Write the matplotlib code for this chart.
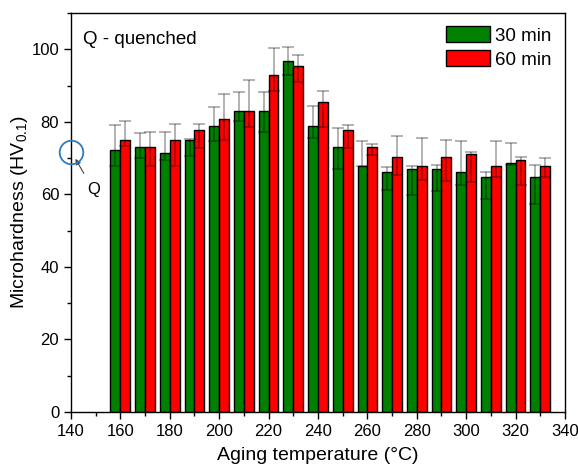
import matplotlib
matplotlib.use("Agg")
import matplotlib.pyplot as plt
import numpy as np
from matplotlib.patches import Patch
from matplotlib.ticker import MultipleLocator

plt.rcParams['font.family'] = ['Liberation Sans', 'DejaVu Sans']

# Aging temperatures (°C)
temps = [160, 170, 180, 190, 200, 210, 220, 230, 240,
         250, 260, 270, 280, 290, 300, 310, 320, 330]

# 30 min aging: mean hardness and upper / lower error
hv_30 = [72.2, 73.0, 71.3, 74.9, 78.8, 83.1, 83.1, 96.9, 78.8,
         73.0, 67.9, 66.2, 67.0, 67.0, 66.2, 64.7, 68.7, 64.7]
err30_up = [7.0, 4.0, 6.0, 0.4, 5.4, 5.1, 5.1, 3.6, 5.5,
            5.2, 6.7, 1.4, 0.8, 1.1, 8.4, 1.4, 5.5, 3.4]
err30_dn = [4.3, 3.0, 1.8, 4.2, 4.0, 2.8, 5.8, 4.1, 3.2,
            5.9, 0.0, 5.0, 7.2, 6.0, 3.6, 5.9, 0.6, 7.4]

# 60 min aging: mean hardness and upper / lower error
hv_60 = [74.9, 73.0, 74.9, 77.8, 80.9, 83.1, 92.8, 95.4, 85.4,
         77.8, 73.0, 70.4, 67.8, 70.4, 71.2, 67.8, 69.5, 67.8]
err60_up = [5.3, 4.3, 4.5, 1.6, 6.9, 8.4, 7.6, 2.9, 3.2,
            1.2, 0.9, 5.7, 7.8, 4.6, 0.6, 6.8, 0.8, 2.3]
err60_dn = [1.6, 5.1, 7.0, 5.1, 6.0, 4.5, 4.2, 4.5, 6.8,
            5.0, 2.1, 5.0, 3.8, 6.7, 7.7, 3.1, 6.8, 3.0]

# As-quenched reference hardness
q_temp = 140
q_hv = 71.8

series_labels = ['30 min', '60 min']
series_colors = ['#008000', '#ff0000']

fig = plt.figure(figsize=(5.78, 4.68), dpi=100)
ax = fig.add_axes([0.1228, 0.1197, 0.8547, 0.8525])

t = np.array(temps, dtype=float)
bar_w = 4.0
offsets = [-bar_w / 2, bar_w / 2]
data = [(hv_30, err30_dn, err30_up), (hv_60, err60_dn, err60_up)]

for (vals, dn, up), off, col in zip(data, offsets, series_colors):
    ax.bar(t + off, vals, width=bar_w, color=col, edgecolor='black',
           linewidth=1.0, zorder=2)
    ax.errorbar(t + off, vals, yerr=[dn, up], fmt='none',
                ecolor=(0, 0, 0, 0.38), elinewidth=1.1, capsize=4.5,
                capthick=1.1, zorder=3)

# Quenched state marker and label
ax.plot([q_temp], [q_hv], marker='o', ms=17, mfc='none', mec='#2f7bbf',
        mew=1.3, clip_on=False, zorder=6, linestyle='none')
ax.annotate('Q', xy=(q_temp + 1.8, q_hv - 2.0), xytext=(q_temp + 9, q_hv - 10.5),
            fontsize=12, ha='center', va='center',
            arrowprops=dict(arrowstyle='-|>', color='#444444', lw=0.8,
                            mutation_scale=8, shrinkA=5, shrinkB=0))

ax.text(0.025, 0.955, 'Q - quenched', transform=ax.transAxes,
        fontsize=13.5, ha='left', va='top')

handles = [Patch(facecolor=c, edgecolor='black', linewidth=1.0)
           for c in series_colors]
ax.legend(handles, series_labels, loc='upper right', frameon=False,
          fontsize=13.5, handlelength=2.35, handleheight=0.95,
          handletextpad=0.3, labelspacing=0.3, borderaxespad=0.3,
          bbox_to_anchor=(1.0, 1.0))

ax.set_xlim(140, 340)
ax.set_ylim(0, 110)
ax.xaxis.set_major_locator(MultipleLocator(20))
ax.xaxis.set_minor_locator(MultipleLocator(10))
ax.yaxis.set_major_locator(MultipleLocator(20))
ax.yaxis.set_minor_locator(MultipleLocator(10))
ax.tick_params(which='both', direction='out', top=False, right=False,
               width=1.0, labelsize=12)
ax.tick_params(which='major', length=5)
ax.tick_params(which='minor', length=3)
for s in ax.spines.values():
    s.set_linewidth(1.0)

ax.set_xlabel('Aging temperature (°C)', fontsize=14, labelpad=6)
ax.set_ylabel('Microhardness (HV$_{\\mathregular{0.1}}$)', fontsize=14,
              labelpad=1)

fig.savefig('out.png', dpi=100)
